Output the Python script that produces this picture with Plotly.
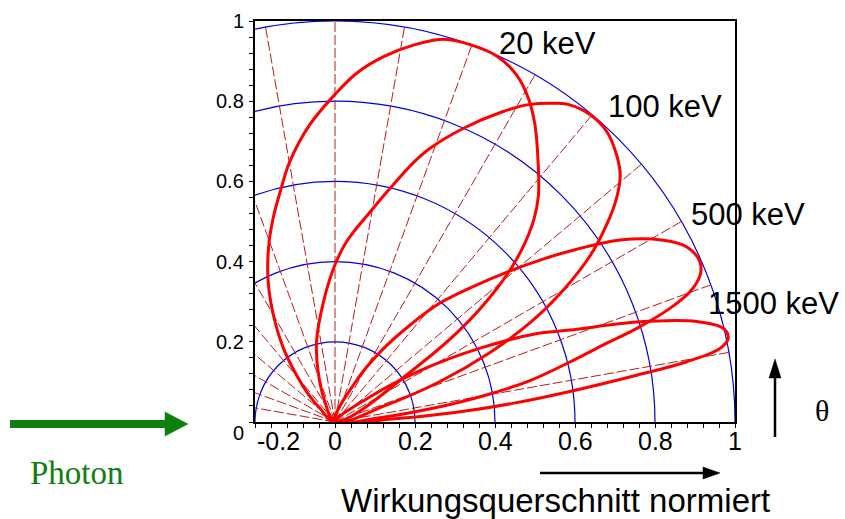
import numpy as np
import plotly.graph_objects as go

# Normalised angular cross-section per photon energy: emission angle (deg) -> relative value
energies = ["20 keV", "100 keV", "500 keV", "1500 keV"]

theta_20 = [30, 34, 37, 40.5, 43, 45.5, 48, 51.6, 56, 59, 62.3, 66, 70, 74, 78, 82.4, 86.4, 90, 95, 100, 103, 107, 111, 115.5, 120, 125, 129.5, 134, 138, 143]
sigma_20 = [0.0, 0.25, 0.42, 0.565, 0.645, 0.71, 0.76, 0.818, 0.894, 0.94, 0.977, 0.998, 1.0, 0.993, 0.962, 0.919, 0.872, 0.817, 0.742, 0.657, 0.598, 0.53, 0.464, 0.388, 0.308, 0.225, 0.151, 0.095, 0.05, 0.0]

theta_100 = [15, 18, 21, 24, 27, 30, 33, 35.9, 38.4, 40.8, 43.4, 46.8, 50.2, 53.4, 55.1, 58.4, 61.5, 66.3, 70.8, 73, 76.7, 80.5, 86.3, 90, 95.5, 103, 108.6, 116.6, 124]
sigma_100 = [0.0, 0.13, 0.28, 0.42, 0.55, 0.66, 0.76, 0.838, 0.898, 0.942, 0.969, 0.993, 0.997, 0.985, 0.969, 0.93, 0.881, 0.80, 0.723, 0.679, 0.599, 0.531, 0.451, 0.392, 0.301, 0.205, 0.132, 0.056, 0.0]

theta_500 = [3, 5, 8, 10, 12, 14.3, 16, 17.2, 18.7, 20.1, 21.9, 23.7, 26.4, 28.9, 32.5, 35.6, 38, 41, 44.5, 48.5, 52, 57, 63, 70]
sigma_500 = [0.0, 0.1, 0.25, 0.38, 0.5, 0.606, 0.698, 0.79, 0.884, 0.945, 0.984, 0.996, 0.982, 0.938, 0.845, 0.738, 0.66, 0.57, 0.48, 0.396, 0.31, 0.21, 0.11, 0.0]

theta_1500 = [1.5, 3, 4.5, 6, 7.4, 8.8, 9.7, 10.8, 12.0, 13.5, 15.5, 18.3, 21.3, 23.5, 26.9, 31, 36, 40]
sigma_1500 = [0.0, 0.15, 0.3, 0.45, 0.592, 0.763, 0.892, 0.98, 1.005, 0.999, 0.938, 0.794, 0.631, 0.555, 0.407, 0.25, 0.1, 0.0]

lobes = [(theta_20, sigma_20), (theta_100, sigma_100), (theta_500, sigma_500), (theta_1500, sigma_1500)]

# Polar grid
grid_radii = [0.2, 0.4, 0.6, 0.8, 1.0]
grid_angles = [10, 20, 30, 40, 50, 60, 70, 80, 90, 100, 110, 120, 130, 140, 150, 160, 170]

# Axis labelling
x_ticks = [-0.2, 0, 0.2, 0.4, 0.6, 0.8, 1]
x_tick_text = ["-0.2", "0", "0.2", "0.4", "0.6", "0.8", "1"]
y_ticks = [0, 0.2, 0.4, 0.6, 0.8, 1]
y_tick_text = ["0", "0.2", "0.4", "0.6", "0.8", "1"]

W, H = 845, 519
L, R, T, B = 255, 110, 21, 97
PW, PH = W - L - R, H - T - B


def px(xp):
    return (xp - L) / PW


def py(yp):
    return (H - B - yp) / PH


RED = "#ff0000"
DASH_RED = "#b81c1c"
BLUE = "#0000e6"
GREEN = "#0f800f"

fig = go.Figure()

shapes = []
for r in grid_radii:
    shapes.append(dict(type="circle", xref="x", yref="y", x0=-r, y0=-r, x1=r, y1=r,
                       line=dict(color=BLUE, width=1.2), layer="below"))
for a in grid_angles:
    t = np.radians(a)
    shapes.append(dict(type="line", xref="x", yref="y", x0=0, y0=0,
                       x1=float(np.cos(t)), y1=float(np.sin(t)),
                       line=dict(color=DASH_RED, width=1, dash="10px,3px"), layer="below"))

for theta, sigma in lobes:
    t = np.radians(np.array(theta, dtype=float))
    s = np.array(sigma, dtype=float)
    fig.add_trace(go.Scatter(x=s * np.cos(t), y=s * np.sin(t), mode="lines",
                             line=dict(color=RED, width=3, shape="spline", smoothing=1.0),
                             hoverinfo="skip", showlegend=False, cliponaxis=True))

# Arrows (pixel geometry converted to paper space)
def arrow_h(x0, x1, y, w, head_len, head_half, color):
    shapes.append(dict(type="line", xref="paper", yref="paper", x0=px(x0), x1=px(x1 - head_len + 1),
                       y0=py(y), y1=py(y), line=dict(color=color, width=w)))
    path = "M {} {} L {} {} L {} {} Z".format(px(x1 - head_len), py(y - head_half), px(x1), py(y),
                                             px(x1 - head_len), py(y + head_half))
    shapes.append(dict(type="path", xref="paper", yref="paper", path=path,
                       fillcolor=color, line=dict(color=color, width=0.5)))


def arrow_v(x, y0, y1, w, head_len, head_half, color):
    shapes.append(dict(type="line", xref="paper", yref="paper", x0=px(x), x1=px(x),
                       y0=py(y0), y1=py(y1 + head_len - 1), line=dict(color=color, width=w)))
    path = "M {} {} L {} {} L {} {} Z".format(px(x - head_half), py(y1 + head_len), px(x), py(y1),
                                             px(x + head_half), py(y1 + head_len))
    shapes.append(dict(type="path", xref="paper", yref="paper", path=path,
                       fillcolor=color, line=dict(color=color, width=0.5)))


arrow_h(10, 188, 424, 8, 23, 12, GREEN)
arrow_h(540, 720, 473, 2.5, 17, 6, "black")
arrow_v(775, 437, 359, 2.5, 19, 6, "black")

annotations = []
sans = "Liberation Sans, Arial, sans-serif"
narrow = "Liberation Sans Narrow, Arial Narrow, Liberation Sans, sans-serif"
serif = "Liberation Serif, Times New Roman, serif"

for v, txt in zip(x_ticks, x_tick_text):
    annotations.append(dict(x=v, y=0, xref="x", yref="paper", text=txt, showarrow=False,
                            xanchor="left" if v == x_ticks[0] else "center", yanchor="top", yshift=-3,
                            font=dict(family=narrow, size=25, color="black")))
for v, txt in zip(y_ticks, y_tick_text):
    annotations.append(dict(x=0, y=v, xref="paper", yref="y", text=txt, showarrow=False,
                            xanchor="right", yanchor="top" if v == y_ticks[0] else "middle",
                            xshift=-9, yshift=2 if v == y_ticks[0] else 0,
                            font=dict(family=sans, size=20, color="black")))

label_px = [(547, 44), (665, 107), (748, 214), (773, 303)]
for txt, (lx, ly) in zip(energies, label_px):
    annotations.append(dict(x=px(lx), y=py(ly), xref="paper", yref="paper", text=txt, showarrow=False,
                            xanchor="center", yanchor="middle", font=dict(family=sans, size=31, color="black")))

annotations.append(dict(x=px(822), y=py(410), xref="paper", yref="paper", text="θ", showarrow=False,
                        xanchor="center", yanchor="middle", font=dict(family=serif, size=30, color="black")))
annotations.append(dict(x=px(77), y=py(473), xref="paper", yref="paper", text="Photon", showarrow=False,
                        xanchor="center", yanchor="middle", font=dict(family=serif, size=33, color=GREEN)))
annotations.append(dict(x=px(555), y=py(500), xref="paper", yref="paper", text="Wirkungsquerschnitt normiert",
                        showarrow=False, xanchor="center", yanchor="middle",
                        font=dict(family=sans, size=33, color="black")))

axis_common = dict(showline=True, linecolor="black", linewidth=1.5, mirror=True, showgrid=False,
                   zeroline=False, ticks="outside", ticklen=4, tickcolor="black", showticklabels=False,
                   minor=dict(dtick=0.04, ticks="outside", ticklen=4, tickcolor="black"))

fig.update_layout(
    width=W, height=H, margin=dict(l=L, r=R, t=T, b=B, pad=0),
    paper_bgcolor="white", plot_bgcolor="white",
    xaxis=dict(range=[-0.2, 1.0], dtick=0.2, tick0=0, **axis_common),
    yaxis=dict(range=[0, 1.0], dtick=0.2, tick0=0, **axis_common),
    shapes=shapes, annotations=annotations, showlegend=False,
)

fig.write_html("out.html")
